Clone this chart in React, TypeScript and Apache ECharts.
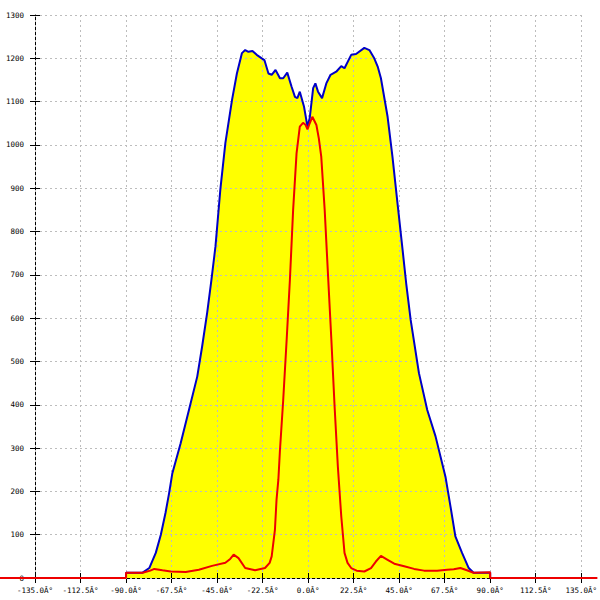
import React, { useEffect, useRef } from "react";
import * as echarts from "echarts";

// ---- data ----
const xTicks = [-135, -112.5, -90, -67.5, -45, -22.5, 0, 22.5, 45, 67.5, 90, 112.5, 135];
const xTickLabels = [
  "-135.0Â°", "-112.5Â°", "-90.0Â°", "-67.5Â°", "-45.0Â°", "-22.5Â°", "0.0Â°",
  "22.5Â°", "45.0Â°", "67.5Â°", "90.0Â°", "112.5Â°", "135.0Â°",
];
const yTicks = [0, 100, 200, 300, 400, 500, 600, 700, 800, 900, 1000, 1100, 1200, 1300];
const yTickLabels = ["0", "100", "200", "300", "400", "500", "600", "700", "800", "900", "1000", "1100", "1200", "1300"];

const blueAngles = [
  -90, -90, -82, -78.5, -75.3, -72.8, -70.5, -68.7, -67.1, -63, -58.9, -54.8, -52.4, -49.9, -47.8,
  -45.8, -43.4, -40.9, -37.6, -35.2, -32.7, -31.1, -29.5, -27.5, -25.4, -22.9, -21.6, -19.6, -18,
  -16.1, -13.9, -12.3, -10.3, -8.2, -6.5, -5.3, -4.1, -2, -0.3, 0.8, 2.5, 3.6, 4.9, 6.9, 9, 11.1,
  13.9, 16.4, 18, 21.3, 23.7, 27.8, 30.3, 32.7, 34.4, 36, 39.3, 41.7, 44.2, 46.7, 48.5, 50.7, 54.8,
  58.9, 63, 67.9, 70.4, 72.8, 76.1, 79.4, 81.8, 90, 90,
];
const blueValues = [
  0, 12, 12, 23, 58, 100, 150, 196, 242, 311, 388, 465, 534, 612, 688,
  765, 896, 1004, 1104, 1165, 1212, 1219, 1215, 1217, 1208, 1200, 1196, 1165, 1162,
  1173, 1154, 1154, 1167, 1135, 1111, 1108, 1123, 1088, 1042, 1062, 1131, 1142, 1123, 1108, 1142, 1162,
  1169, 1182, 1177, 1208, 1210, 1224, 1219, 1200, 1181, 1154, 1065, 973, 865, 758, 680, 596, 473,
  388, 327, 234, 165, 96, 58, 23, 12, 12, 0,
];

const redAngles = [
  -153, -135, -90, -90, -81.8, -78, -76, -72, -67.9, -60.5, -54, -47.5, -40.9, -38.5, -36.8, -34.4, -31.1,
  -26.2, -21.3, -19, -18, -16.4, -15.6, -14.7, -13.9, -12.3, -10.6, -9, -7.4, -5.7, -4.1, -2.5,
  -1.2, -0.3, 0.8, 2.1, 4.1, 5.3, 6.5, 8.2, 9.8, 11.5, 13.1, 14.7, 16.4, 18, 19.5, 21.3, 24, 27.8,
  31.1, 33.5, 36, 39.3, 42.6, 47.5, 52.4, 57.3, 63.8, 68.7, 72, 75.3, 78.5, 81.8, 90, 90, 135, 143,
];
const redValues = [
  0, 0, 0, 12, 12, 17, 21, 18, 15, 14, 19, 28, 35, 44, 54, 46, 23,
  18, 23, 35, 50, 111, 181, 227, 296, 411, 550, 688, 850, 981, 1042, 1051,
  1046, 1036, 1050, 1065, 1046, 1015, 973, 850, 704, 550, 396, 258, 142, 58, 35, 23, 17, 15,
  23, 38, 51, 42, 33, 27, 21, 17, 17, 19, 20, 23, 18, 12, 13, 0, 0, 0,
];

const labelFor = (ticks: number[], labels: string[], v: number) => {
  const i = ticks.findIndex((t) => Math.abs(t - v) < 1e-6);
  return i >= 0 ? labels[i] : "";
};

const RED = "#ee0000";

export default function App() {
  const ref = useRef<HTMLDivElement>(null);
  useEffect(() => {
    if (!ref.current) return;
    const chart = echarts.init(ref.current, null, { renderer: "svg" });
    const blueData = blueAngles.map((a, i) => [a, blueValues[i]]);
    const redData = redAngles.map((a, i) => [a, redValues[i]]);
    const font = { fontFamily: "DejaVu Sans Mono", fontSize: 7.5, color: "#000" };
    const split = { show: true, lineStyle: { color: "#bdbdbd", type: [2, 3] as any, width: 1 } };
    chart.setOption({
      animation: false,
      backgroundColor: "#fff",
      grid: { left: 35, right: 15, top: 15, bottom: 22 },
      xAxis: [
        {
          type: "value", min: -135, max: 135, interval: 22.5, position: "bottom", z: 0,
          axisLine: { show: true, onZero: false, lineStyle: { color: "#000", width: 1 } },
          axisTick: { show: true, length: 5, lineStyle: { color: "#000" } },
          axisLabel: { ...font, margin: 8, formatter: (v: number) => labelFor(xTicks, xTickLabels, v) },
          splitLine: { show: false },
        },
        {
          type: "value", min: -135, max: 135, interval: 22.5, position: "bottom", z: 5,
          axisLine: { show: false, onZero: false },
          axisTick: { show: true, inside: true, length: 5, lineStyle: { color: "#000" } },
          axisLabel: { show: false },
          splitLine: split,
        },
      ],
      yAxis: [
        {
          type: "value", min: 0, max: 1300, interval: 100, position: "left", z: 0,
          axisLine: { show: true, onZero: false, lineStyle: { color: "#000", width: 1 } },
          axisTick: { show: true, length: 5, lineStyle: { color: "#000" } },
          axisLabel: { ...font, margin: 11, formatter: (v: number) => labelFor(yTicks, yTickLabels, v) },
          splitLine: { show: false },
        },
        {
          type: "value", min: 0, max: 1300, interval: 100, position: "left", z: 5,
          axisLine: { show: false, onZero: false },
          axisTick: { show: true, inside: true, length: 5, lineStyle: { color: "#000" } },
          axisLabel: { show: false },
          splitLine: split,
        },
      ],
      series: [
        {
          type: "line", data: blueData, z: 1, showSymbol: false, symbol: "none",
          lineStyle: { width: 0 }, areaStyle: { color: "#ffff00", opacity: 1 },
          xAxisIndex: 0, yAxisIndex: 0,
        },
        {
          type: "line", data: blueData, z: 8, showSymbol: false, symbol: "none",
          lineStyle: { width: 2, color: "#0000c8" },
          xAxisIndex: 0, yAxisIndex: 0,
        },
        {
          type: "line", data: redData, z: 10, showSymbol: false, symbol: "none",
          lineStyle: { width: 2, color: RED },
          xAxisIndex: 0, yAxisIndex: 0,
        },
      ],
    });
    // The red trace's zero run continues past the axis range: draw that overflow through the chart's own scale.
    const finder = { xAxisIndex: 0, yAxisIndex: 0 };
    const n = redAngles.length;
    const pL0 = chart.convertToPixel(finder, [redAngles[0], redValues[0]]) as number[];
    const pL1 = chart.convertToPixel(finder, [redAngles[1], redValues[1]]) as number[];
    const pR0 = chart.convertToPixel(finder, [redAngles[n - 2], redValues[n - 2]]) as number[];
    const pR1 = chart.convertToPixel(finder, [redAngles[n - 1], redValues[n - 1]]) as number[];
    chart.setOption({
      graphic: [
        { type: "line", z: 100, shape: { x1: pL0[0], y1: pL0[1], x2: pL1[0], y2: pL1[1] }, style: { stroke: RED, lineWidth: 2 } },
        { type: "line", z: 100, shape: { x1: pR0[0], y1: pR0[1], x2: pR1[0], y2: pR1[1] }, style: { stroke: RED, lineWidth: 2 } },
      ],
    });
    return () => chart.dispose();
  }, []);
  return (
    <div
      ref={ref}
      style={{ position: "fixed", left: 0, top: 0, width: 600, height: 600, background: "#fff" }}
    />
  );
}
